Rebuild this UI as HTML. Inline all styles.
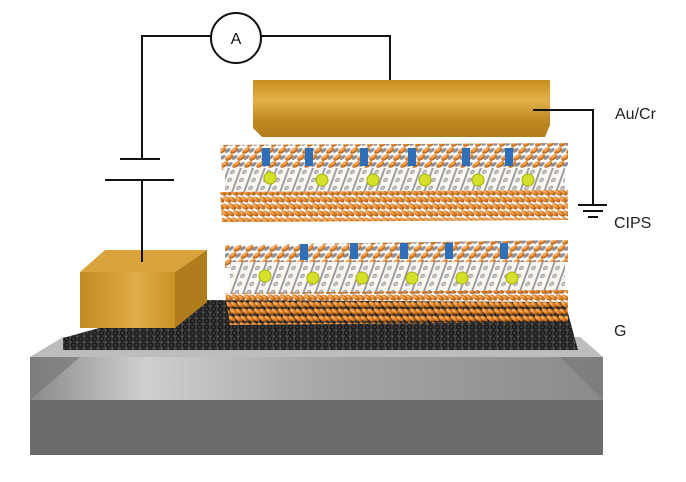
<!DOCTYPE html>
<html><head><meta charset="utf-8"><style>
html,body{margin:0;padding:0;background:#fff;}
svg{display:block;}
text{font-family:"Liberation Sans",sans-serif;}
</style></head><body>
<svg width="686" height="482" viewBox="0 0 686 482" xmlns="http://www.w3.org/2000/svg">
<defs>
<linearGradient id="bar" x1="0" y1="0" x2="0" y2="1">
<stop offset="0" stop-color="#c98f1e"/><stop offset="0.35" stop-color="#e3b04a"/><stop offset="0.7" stop-color="#c08a22"/><stop offset="1" stop-color="#b27c1c"/></linearGradient>
<linearGradient id="boxf" x1="0" y1="0" x2="1" y2="0">
<stop offset="0" stop-color="#c28a22"/><stop offset="0.6" stop-color="#e1ad48"/><stop offset="1" stop-color="#c99225"/></linearGradient>
<linearGradient id="subf" x1="0" y1="0" x2="1" y2="0">
<stop offset="0" stop-color="#8a8a8a"/><stop offset="0.2" stop-color="#cfcfcf"/><stop offset="0.5" stop-color="#a8a8a8"/><stop offset="1" stop-color="#8a8a8a"/></linearGradient>
<radialGradient id="ob" cx="0.35" cy="0.35" r="0.7"><stop offset="0" stop-color="#ffc07a"/><stop offset="0.6" stop-color="#d9781e"/><stop offset="1" stop-color="#9c4e0c"/></radialGradient>
<pattern id="orange" width="12" height="7" patternUnits="userSpaceOnUse" patternTransform="skewX(-35)">
<circle cx="3.5" cy="3.5" r="3.3" fill="url(#ob)"/><circle cx="9" cy="3.5" r="2.4" fill="#8e8e96"/></pattern>
<pattern id="orange2" width="12" height="7" patternUnits="userSpaceOnUse" patternTransform="skewX(35)">
<circle cx="3.5" cy="3.5" r="3.3" fill="url(#ob)"/><circle cx="9" cy="3.5" r="3" fill="url(#ob)"/></pattern>
<pattern id="mid" width="12" height="8" patternUnits="userSpaceOnUse" patternTransform="skewX(-20)">
<rect width="12" height="8" fill="#fbf8f2"/>
<line x1="2" y1="0" x2="2" y2="8" stroke="#9a9aa2" stroke-width="2"/>
<circle cx="7" cy="4" r="1.8" fill="#c9c9cf" stroke="#777" stroke-width="0.6"/></pattern>
<pattern id="graph" width="7" height="6" patternUnits="userSpaceOnUse">
<rect width="7" height="6" fill="#3a3a3a"/>
<circle cx="3.5" cy="3" r="2" fill="none" stroke="#161616" stroke-width="1.2"/>
<circle cx="0" cy="0" r="1" fill="#777"/></pattern>
</defs>

<!-- substrate -->
<polygon points="30,357 63,337 580,337 603,357" fill="#bdbdbd"/>
<rect x="30" y="357" width="573" height="44" fill="url(#subf)"/>
<polygon points="30,357 80,357 30,400" fill="#777" opacity="0.7"/>
<polygon points="603,357 560,357 603,400" fill="#777" opacity="0.6"/>
<rect x="30" y="400" width="573" height="55" fill="#6b6b6b"/>
<!-- graphene -->
<polygon points="63,338 200,300 565,302 578,350 63,350" fill="url(#graph)"/>

<!-- gold box -->
<polygon points="80,272 105,250 207,250 175,272" fill="#d9a43c"/>
<polygon points="175,272 207,250 207,302 175,328" fill="#b07d1c"/>
<rect x="80" y="272" width="95" height="56" fill="url(#boxf)"/>

<!-- CIPS layer lower -->
<g>
<polygon points="225,245 568,240 568,262 225,268" fill="url(#orange)"/>
<rect x="230" y="262" width="335" height="32" fill="url(#mid)"/>
<polygon points="225,293 568,290 568,322 230,325" fill="url(#orange2)"/>
<g fill="#2f6fb8"><rect x="300" y="244" width="8" height="16"/><rect x="350" y="243" width="8" height="16"/><rect x="400" y="243" width="8" height="16"/><rect x="445" y="243" width="8" height="16"/><rect x="500" y="243" width="8" height="16"/></g>
<g fill="#d6e02a" stroke="#a8b010" stroke-width="1"><circle cx="265" cy="276" r="6"/><circle cx="313" cy="278" r="6"/><circle cx="362" cy="278" r="6"/><circle cx="412" cy="278" r="6"/><circle cx="462" cy="278" r="6"/><circle cx="512" cy="278" r="6"/></g>
</g>
<!-- CIPS layer upper -->
<g>
<polygon points="220,145 568,143 568,168 222,170" fill="url(#orange)"/>
<rect x="225" y="168" width="340" height="26" fill="url(#mid)"/>
<polygon points="220,192 568,190 568,220 222,222" fill="url(#orange2)"/>
<g fill="#2f6fb8"><rect x="262" y="148" width="8" height="18"/><rect x="305" y="148" width="8" height="18"/><rect x="360" y="148" width="8" height="18"/><rect x="408" y="148" width="8" height="18"/><rect x="462" y="148" width="8" height="18"/><rect x="505" y="148" width="8" height="18"/></g>
<g fill="#d6e02a" stroke="#a8b010" stroke-width="1"><circle cx="270" cy="178" r="6"/><circle cx="322" cy="180" r="6"/><circle cx="373" cy="180" r="6"/><circle cx="425" cy="180" r="6"/><circle cx="478" cy="180" r="6"/><circle cx="528" cy="180" r="6"/></g>
</g>

<!-- top gold bar -->
<polygon points="253,80 550,80 550,125 545,137 262,137 253,128" fill="url(#bar)"/>

<!-- circuit -->
<g stroke="#111" stroke-width="2" fill="none">
<polyline points="211,36 142,36 142,159"/>
<line x1="120" y1="159" x2="160" y2="159"/>
<line x1="105" y1="180" x2="174" y2="180"/>
<line x1="142" y1="180" x2="142" y2="262"/>
<polyline points="261,36 390,36 390,80"/>
<circle cx="236" cy="38" r="25" fill="#fff"/>
<polyline points="533,110 593,110 593,205"/>
<line x1="578" y1="205" x2="607" y2="205"/>
<line x1="583" y1="211" x2="603" y2="211"/>
<line x1="588" y1="217" x2="598" y2="217"/>
</g>
<text x="236" y="44" font-size="16" text-anchor="middle" fill="#111">A</text>
<text x="615" y="119" font-size="16" fill="#222">Au/Cr</text>
<text x="614" y="228" font-size="16" fill="#222">CIPS</text>
<text x="614" y="336" font-size="16" fill="#222">G</text>
</svg>
</body></html>
